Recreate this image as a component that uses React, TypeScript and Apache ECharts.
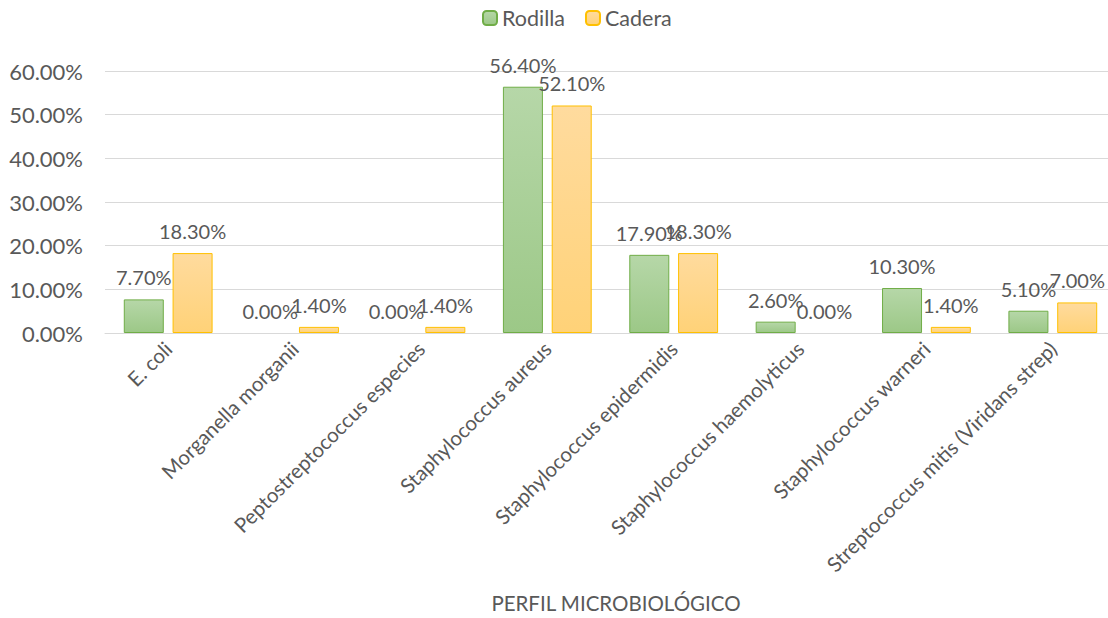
import React, { useEffect, useRef } from "react";
import * as echarts from "echarts";

const categories = [
  "E. coli",
  "Morganella morganii",
  "Peptostreptococcus especies",
  "Staphylococcus aureus",
  "Staphylococcus epidermidis",
  "Staphylococcus haemolyticus",
  "Staphylococcus warneri",
  "Streptococcus mitis (Viridans strep)",
];
const rodilla = [7.7, 0.0, 0.0, 56.4, 17.9, 2.6, 10.3, 5.1];
const cadera = [18.3, 1.4, 1.4, 52.1, 18.3, 0.0, 1.4, 7.0];
const seriesNames = ["Rodilla", "Cadera"];
const axisTitle = "PERFIL MICROBIOLÓGICO";

const FONT = "Lato, 'Noto Sans', sans-serif";
const TEXT = "#595959";

const pct = (v: number) => v.toFixed(2) + "%";

// zero-height bars get no outline, so only their label shows
const toData = (values: number[]) =>
  values.map((v) =>
    v === 0 ? { value: v, itemStyle: { borderWidth: 0, color: "transparent" } } : v
  );

export default function App() {
  const ref = useRef<HTMLDivElement>(null);

  useEffect(() => {
    if (!ref.current) return;
    const chart = echarts.init(ref.current, undefined, { renderer: "svg" });

    const grad = (top: string, bottom: string) =>
      new echarts.graphic.LinearGradient(0, 0, 0, 1, [
        { offset: 0, color: top },
        { offset: 1, color: bottom },
      ]);

    const label = {
      show: true,
      position: "top" as const,
      distance: 12,
      fontSize: 20,
      color: TEXT,
      fontFamily: FONT,
      formatter: (p: any) => pct(p.value),
    };

    chart.setOption({
      animation: false,
      textStyle: { fontFamily: FONT },
      legend: {
        data: seriesNames,
        top: 2,
        left: 477,
        itemWidth: 14,
        itemHeight: 14,
        itemGap: 20,
        textStyle: { fontSize: 21.5, color: TEXT, fontFamily: FONT },
      },
      title: {
        text: axisTitle,
        left: 611,
        textAlign: "center",
        bottom: 0,
        textStyle: { fontSize: 20.5, fontWeight: "normal", color: TEXT, fontFamily: FONT },
      },
      // plot area runs slightly past the visible right edge
      grid: { left: 105, right: 0, top: 71, bottom: 285, containLabel: false },
      xAxis: {
        type: "category",
        data: categories,
        axisLine: { lineStyle: { color: "#d9d9d9", width: 1 } },
        axisTick: { show: false },
        axisLabel: {
          rotate: 45,
          interval: 0,
          margin: 12,
          fontSize: 20.5,
          color: TEXT,
          fontFamily: FONT,
        },
      },
      yAxis: {
        type: "value",
        min: 0,
        max: 60,
        interval: 10,
        axisLine: { show: false },
        axisTick: { show: false },
        splitLine: { lineStyle: { color: "#d9d9d9", width: 1 } },
        axisLabel: {
          margin: 22,
          fontSize: 22,
          color: TEXT,
          fontFamily: FONT,
          formatter: (v: number) => pct(v),
        },
      },
      series: [
        {
          name: seriesNames[0],
          type: "bar",
          data: toData(rodilla),
          barWidth: 40,
          barGap: "22%",
          itemStyle: {
            color: grad("#b6d7a8", "#9cc887"),
            borderColor: "#70ad47",
            borderWidth: 1,
          },
          label,
        },
        {
          name: seriesNames[1],
          type: "bar",
          data: toData(cadera),
          barWidth: 40,
          itemStyle: {
            color: grad("#ffdb9e", "#ffd278"),
            borderColor: "#ffc000",
            borderWidth: 1,
          },
          label,
        },
      ],
    });

    return () => chart.dispose();
  }, []);

  return (
    <div
      style={{ position: "fixed", left: 0, top: 0, width: 1108, height: 618, background: "#fff", overflow: "hidden" }}
    >
      <div ref={ref} style={{ width: 1116, height: 618 }} />
    </div>
  );
}
